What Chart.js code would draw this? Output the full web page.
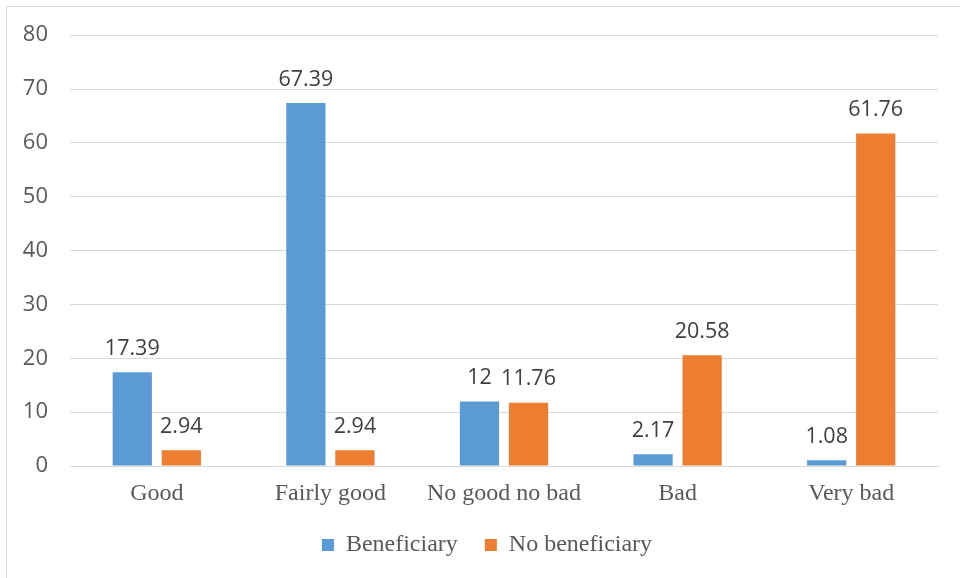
<!DOCTYPE html>
<html>
<head>
<meta charset="utf-8">
<script src="https://cdn.jsdelivr.net/npm/chart.js@4"></script>
<style>
  html, body { margin: 0; padding: 0; background: #fff; }
  #wrap { position: relative; width: 960px; height: 578px; overflow: hidden; }
  #frame { position: absolute; left: 6px; top: 6px; width: 980px; height: 600px; border: 1px solid #d9d9d9; box-sizing: border-box; }
  #chart { position: absolute; left: 0; top: 0; }
</style>
</head>
<body>
<div id="wrap">
  <div id="frame"></div>
  <canvas id="chart" width="960" height="578"></canvas>
</div>
<script>
// datos del grafico
var categorias = ['Good', 'Fairly good', 'No good no bad', 'Bad', 'Very bad'];
var beneficiary = [17.39, 67.39, 12, 2.17, 1.08];
var noBeneficiary = [2.94, 2.94, 11.76, 20.58, 61.76];
var yMin = 0, yMax = 80, yStep = 10;

// etiquetas encima de las barras
var etiquetas = {
    id: 'etiquetas',
    afterDatasetsDraw: function(chart) {
        var ctx = chart.ctx;
        ctx.save();
        ctx.font = '21.5px "Open Sans", sans-serif';
        ctx.fillStyle = '#404040';
        ctx.textAlign = 'center';
        ctx.textBaseline = 'alphabetic';
        chart.data.datasets.forEach(function(ds, i) {
            chart.getDatasetMeta(i).data.forEach(function(bar, j) {
                ctx.fillText(String(ds.data[j]), bar.x, bar.y - 17.5);
            });
        });
        ctx.restore();
    }
};

// mover un poco la leyenda a la derecha
var moverLeyenda = {
    id: 'moverLeyenda',
    afterLayout: function(chart) {
        if (chart.legend) {
            chart.legend.left += 18;
            chart.legend.right += 18;
        }
    }
};

new Chart(document.getElementById('chart'), {
    type: 'bar',
    data: {
        labels: categorias,
        datasets: [{
            label: 'Beneficiary',
            data: beneficiary,
            backgroundColor: '#5B9BD5',
            categoryPercentage: 0.565,
            barPercentage: 0.8
        }, {
            label: 'No beneficiary',
            data: noBeneficiary,
            backgroundColor: '#ED7D31',
            categoryPercentage: 0.565,
            barPercentage: 0.8
        }]
    },
    options: {
        responsive: false,
        animation: false,
        layout: { padding: { top: 35, right: 22, bottom: 11, left: 0 } },
        scales: {
            x: {
                grid: { display: false, drawTicks: false },
                border: { display: true, color: '#d9d9d9' },
                ticks: {
                    padding: 13,
                    color: '#595959',
                    font: { family: '"Liberation Serif", "Times New Roman", serif', size: 24 }
                },
                afterFit: function(s) { s.height = 40; }
            },
            y: {
                min: yMin,
                max: yMax,
                grid: { color: '#d9d9d9', drawTicks: false },
                border: { display: false },
                ticks: {
                    stepSize: yStep,
                    padding: 22,
                    color: '#595959',
                    font: { family: '"Open Sans", sans-serif', size: 22 }
                },
                afterFit: function(s) { s.width = 70; }
            }
        },
        plugins: {
            legend: {
                position: 'bottom',
                labels: {
                    boxWidth: 12,
                    boxHeight: 12,
                    padding: 27,
                    color: '#595959',
                    font: { family: '"Liberation Serif", "Times New Roman", serif', size: 24 }
                }
            },
            tooltip: { enabled: false }
        }
    },
    plugins: [etiquetas, moverLeyenda]
});
</script>
</body>
</html>
